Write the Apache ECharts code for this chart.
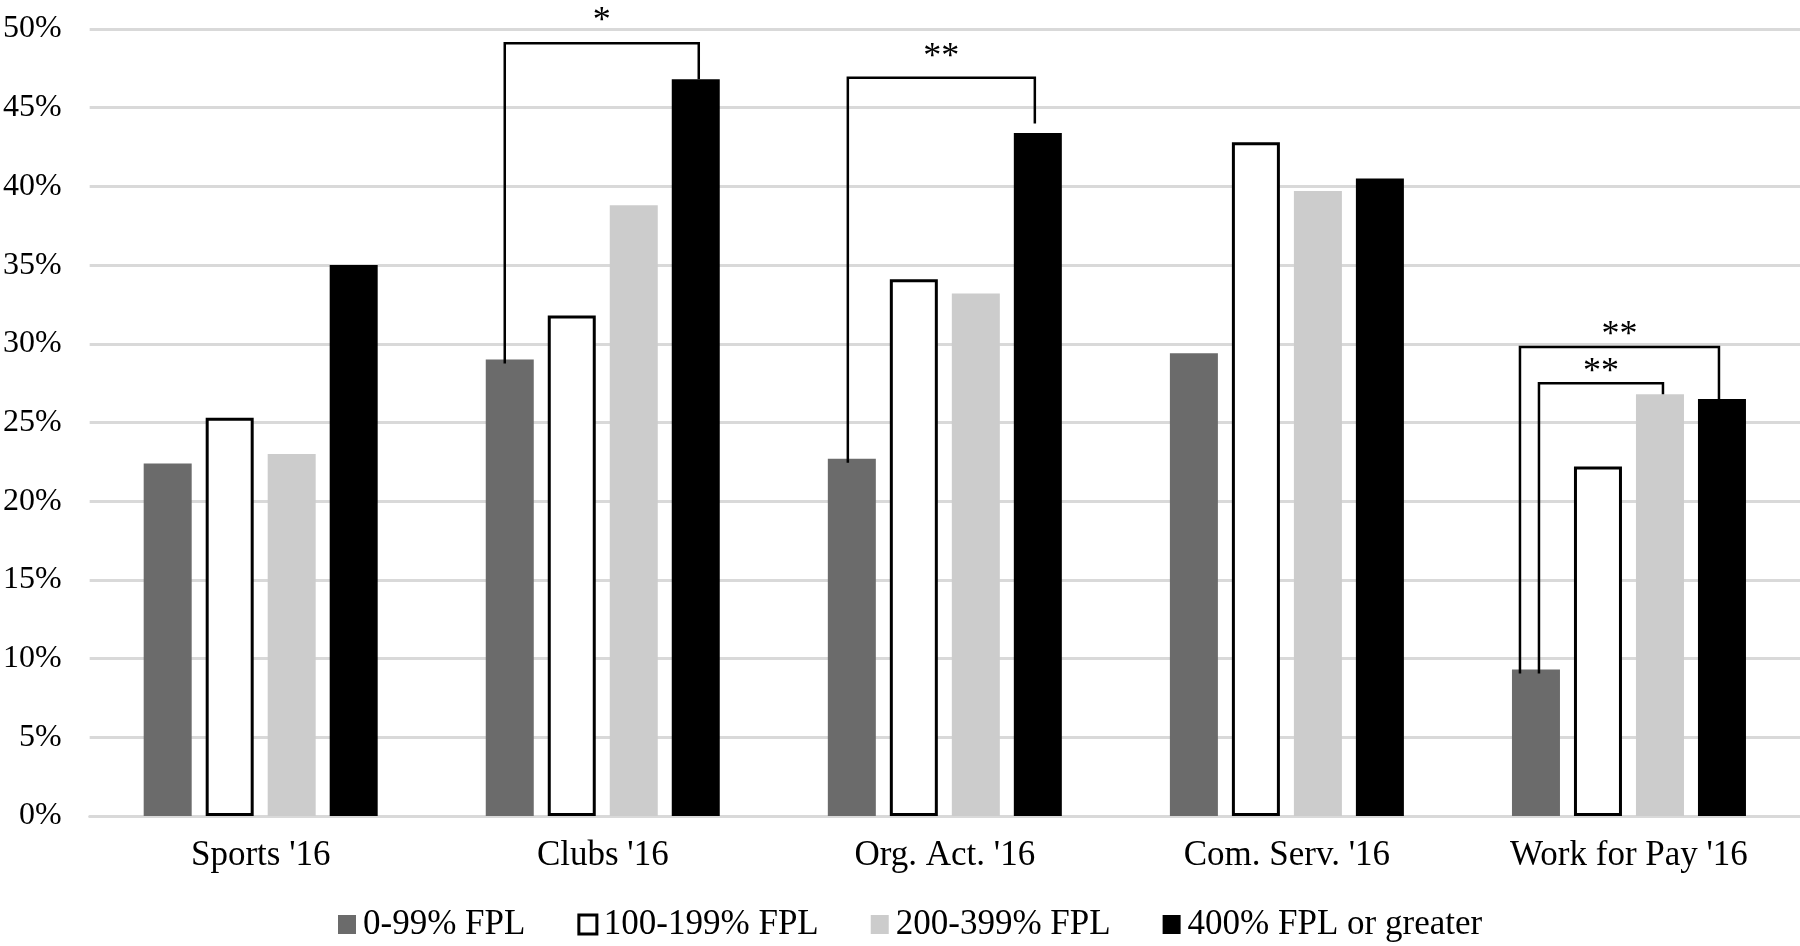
<!DOCTYPE html>
<html>
<head>
<meta charset="utf-8">
<script src="https://cdn.jsdelivr.net/npm/echarts@6/dist/echarts.min.js"></script>
<style>
html,body{margin:0;padding:0;background:#fff;}
#chart{width:1800px;height:946px;}
</style>
</head>
<body>
<div id="chart"></div>
<script>
// ---- data ----
var categories = ["Sports '16", "Clubs '16", "Org. Act. '16", "Com. Serv. '16", "Work for Pay '16"];
var seriesNames = ["0-99% FPL", "100-199% FPL", "200-399% FPL", "400% FPL or greater"];
var fpl0_99    = [22.4, 29.0, 22.7, 29.4, 9.3];
var fpl100_199 = [25.3, 31.8, 34.1, 42.8, 22.2];
var fpl200_399 = [23.0, 38.8, 33.2, 39.7, 26.8];
var fpl400plus = [35.0, 46.8, 43.4, 40.5, 26.5];
var yTicks = [0, 5, 10, 15, 20, 25, 30, 35, 40, 45, 50];
// significance brackets: category index, from/to series index, bracket top value, label, label value
var sigCat   = [1, 2, 4, 4];
var sigFrom  = [0, 0, 0, 0];
var sigTo    = [3, 3, 3, 2];
var sigTop   = [49.1, 46.9, 29.8, 27.5];
var sigRightEnd = [46.8, 44.0, 26.5, 26.8];
var sigLabel = ["*", "**", "**", "**"];
var sigLabelY = [50.5, 48.2, 30.5, 28.2];

// ---- styles ----
var FONT = '"Liberation Serif", "Times New Roman", serif';
var BAR_W = 48, BAR_GAP = 14;
var colors = ['#6b6b6b', '#ffffff', '#cccccc', '#000000'];
var seriesData = [fpl0_99, fpl100_199, fpl200_399, fpl400plus];
var leftInset = [-5, -4, -16, 3];
var rightInset = [3, -3, -3, 3];

var chart = echarts.init(document.getElementById('chart'), null, {renderer: 'canvas'});

var barSeries = seriesNames.map(function (name, i) {
  var st = {color: colors[i]};
  if (i === 1) { st.borderColor = '#000'; st.borderWidth = 3; }
  return {
    name: name,
    type: 'bar',
    data: seriesData[i],
    barWidth: BAR_W,
    barGap: (BAR_GAP / BAR_W * 100) + '%',
    itemStyle: st,
    z: 2
  };
});

var sigData = sigCat.map(function (c, i) { return [c, sigTop[i]]; });

var customSeries = {
  type: 'custom',
  name: 'sig',
  data: sigData,
  clip: false,
  z: 5,
  silent: true,
  renderItem: function (params, api) {
    var i = params.dataIndex;
    var c = sigCat[i];
    var pitch = BAR_W + BAR_GAP;
    var center = api.coord([c, 0])[0];
    var xl = center + (sigFrom[i] - 1.5) * pitch + leftInset[i];
    var xr = center + (sigTo[i] - 1.5) * pitch + rightInset[i];
    var yTop = api.coord([c, sigTop[i]])[1];
    var yL = api.coord([c, seriesData[sigFrom[i]][c]])[1] + 4;
    var yR = api.coord([c, sigRightEnd[i]])[1];
    var yLab = api.coord([c, sigLabelY[i]])[1];
    return {
      type: 'group',
      children: [
        {
          type: 'polyline',
          shape: {points: [[xl, yL], [xl, yTop], [xr, yTop], [xr, yR]]},
          style: {stroke: '#000', lineWidth: 2.5, fill: null}
        },
        {
          type: 'text',
          style: {
            text: sigLabel[i], x: (xl + xr) / 2, y: yLab,
            align: 'center', verticalAlign: 'middle',
            font: '36px ' + FONT, fill: '#000'
          }
        }
      ]
    };
  }
};

var legendData = seriesNames.map(function (n, i) {
  var d = {name: n, icon: 'rect'};
  if (i === 1) d.itemStyle = {color: '#fff', borderColor: '#000', borderWidth: 3};
  return d;
});

chart.setOption({
  animation: false,
  backgroundColor: '#ffffff',
  grid: {left: 88, right: 0, top: 29, bottom: 130, containLabel: false},
  legend: {
    data: legendData,
    left: 333,
    top: 902,
    itemWidth: 18,
    itemHeight: 19,
    itemGap: 52,
    textStyle: {fontFamily: FONT, fontSize: 35, color: '#000', padding: [0, 0, 0, 2]}
  },
  xAxis: {
    type: 'category',
    data: categories,
    axisTick: {show: false},
    axisLine: {lineStyle: {color: '#d9d9d9', width: 3}},
    axisLabel: {fontFamily: FONT, fontSize: 35, color: '#000', margin: 22}
  },
  yAxis: {
    type: 'value',
    min: 0, max: 50, interval: 5,
    axisLine: {show: false},
    axisTick: {show: false},
    splitLine: {lineStyle: {color: '#d9d9d9', width: 3}},
    axisLabel: {fontFamily: FONT, fontSize: 32, color: '#000', margin: 28,
      formatter: function (v) { return yTicks.indexOf(v) >= 0 ? v + '%' : ''; }}
  },
  series: barSeries.concat([customSeries])
});
</script>
</body>
</html>
